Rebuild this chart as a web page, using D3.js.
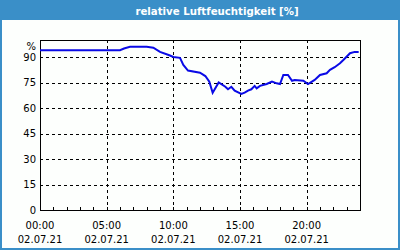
<!DOCTYPE html>
<html>
<head>
<meta charset="utf-8">
<script src="https://cdn.jsdelivr.net/npm/d3@7"></script>
<style>
  body { margin: 0; background: #fff; }
</style>
</head>
<body>
<script>
// Data: hours since 00:00 on 02.07.21 and relative humidity (%)
const hours = [0, 6.0, 6.3, 6.75, 8.0, 8.5, 9.0, 9.7, 10.0, 10.5, 10.75, 11.1, 12.0, 12.4, 12.7, 12.95,
  13.4, 13.9, 14.1, 14.35, 14.6, 15.1, 15.35, 15.6, 15.85, 16.1, 16.25, 16.5, 17.0, 17.4, 17.75, 18.0,
  18.25, 18.6, 18.9, 19.1, 19.75, 20.1, 20.6, 21.0, 21.5, 21.75, 22.1, 22.5, 22.75, 23.25, 23.6, 23.9];
const humidity = [94, 94, 95, 96, 96, 95.5, 93, 91, 90, 89.5, 85.3, 82, 80.8, 78.8, 75.5, 69,
  75, 72.5, 71, 72.5, 70.2, 68.3, 69, 70.2, 71, 73, 71.6, 73, 74.1, 75.5, 74.5, 74.1,
  79.4, 79.4, 76, 76.5, 76, 74.1, 76.5, 79.4, 80.4, 82.4, 84, 86.3, 88.2, 92.2, 93, 93];
const xTicks = [0, 5, 10, 15, 20];
const xTickTimes = ["00:00", "05:00", "10:00", "15:00", "20:00"];
const xTickDates = ["02.07.21", "02.07.21", "02.07.21", "02.07.21", "02.07.21"];
const yTicks = [0, 15, 30, 45, 60, 75, 90];

const width = 400, height = 250;
const marginTop = 40, marginRight = 40, marginBottom = 40, marginLeft = 40;
const font = "'DejaVu Sans', Verdana, sans-serif";

const svg = d3.select("body").append("svg")
  .attr("width", width)
  .attr("height", height)
  .attr("viewBox", [0, 0, width, height]);

// Frame and title bar
svg.append("rect").attr("width", width).attr("height", height).attr("fill", "#3a8fc8");
svg.append("rect").attr("x", 2).attr("y", 20).attr("width", width - 4).attr("height", height - 22)
  .attr("fill", "#fdfffd");
svg.append("text")
  .attr("x", 217).attr("y", 14.5)
  .attr("text-anchor", "middle")
  .attr("fill", "#fff")
  .style("font-family", font)
  .style("font-weight", "bold")
  .style("font-size", "10.2px")
  .text("relative Luftfeuchtigkeit [%]");

const x = d3.scaleLinear().domain([0, 24]).range([marginLeft, width - marginRight]);
const y = d3.scaleLinear().domain([0, 100]).range([height - marginBottom, marginTop]);

// Grid lines
svg.append("g")
  .selectAll("line")
  .data(yTicks.filter(d => d > 0))
  .join("line")
  .attr("x1", x(0)).attr("x2", x(24))
  .attr("y1", d => Math.round(y(d)) + 0.5).attr("y2", d => Math.round(y(d)) + 0.5)
  .attr("stroke", "#000").attr("stroke-dasharray", "3,3");

svg.append("g")
  .selectAll("line")
  .data(xTicks.filter(d => d > 0))
  .join("line")
  .attr("x1", d => Math.round(x(d)) + 0.5).attr("x2", d => Math.round(x(d)) + 0.5)
  .attr("y1", y(100)).attr("y2", y(0))
  .attr("stroke", "#000").attr("stroke-dasharray", "3,3");

// Hourly minor ticks on the bottom axis
svg.append("g")
  .selectAll("line")
  .data(d3.range(0, 25))
  .join("line")
  .attr("x1", d => Math.round(x(d)) + 0.5).attr("x2", d => Math.round(x(d)) + 0.5)
  .attr("y1", y(0)).attr("y2", y(0) - 3)
  .attr("stroke", "#000");

// Plot box
svg.append("rect")
  .attr("x", x(0) + 0.5).attr("y", y(100) + 0.5)
  .attr("width", x(24) - x(0)).attr("height", y(0) - y(100))
  .attr("fill", "none").attr("stroke", "#000");

// Y labels
svg.append("g")
  .selectAll("text")
  .data(yTicks)
  .join("text")
  .attr("x", x(0) - 4)
  .attr("y", d => y(d))
  .attr("dy", "0.36em")
  .attr("text-anchor", "end")
  .attr("fill", "#000")
  .style("font-family", font)
  .style("font-size", "10px")
  .text(d => d);

svg.append("text")
  .attr("x", x(0) - 4).attr("y", y(100) + 6)
  .attr("dy", "0.36em")
  .attr("text-anchor", "end")
  .attr("fill", "#000")
  .style("font-family", font)
  .style("font-size", "10px")
  .text("%");

// X labels
const xl = svg.append("g")
  .selectAll("g")
  .data(xTicks)
  .join("g")
  .attr("transform", d => `translate(${x(d)},0)`)
  .style("font-family", font)
  .style("font-size", "10px")
  .attr("fill", "#000")
  .attr("text-anchor", "middle");
xl.append("text").attr("y", 229).text((d, i) => xTickTimes[i]);
xl.append("text").attr("y", 243).text((d, i) => xTickDates[i]);

// Humidity line
const line = d3.line()
  .x((d, i) => x(hours[i]))
  .y(d => y(d));

svg.append("path")
  .attr("fill", "none")
  .attr("stroke", "#0a0ae6")
  .attr("stroke-width", 2)
  .attr("d", line(humidity));
</script>
</body>
</html>
